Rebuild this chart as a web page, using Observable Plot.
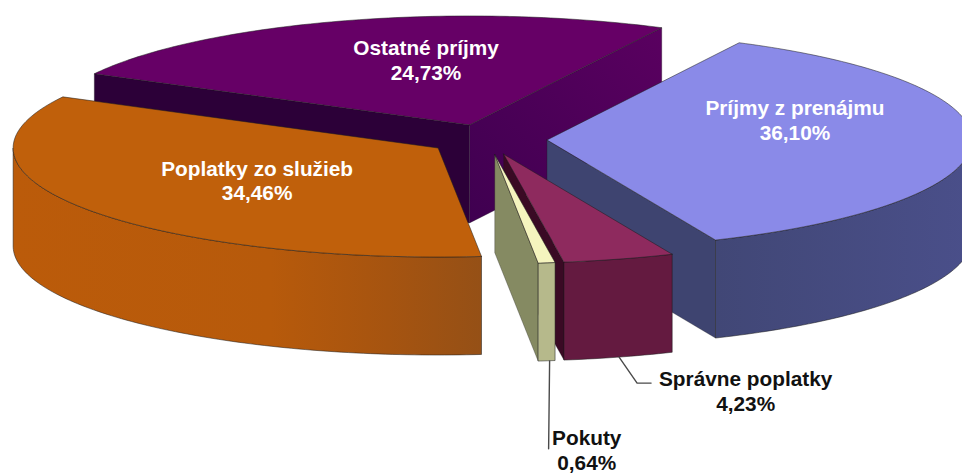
<!DOCTYPE html>
<html>
<head>
<meta charset="utf-8">
<style>html,body{margin:0;padding:0;background:#fff;overflow:hidden}</style>
<script src="https://cdn.jsdelivr.net/npm/d3@7"></script>
<script src="https://cdn.jsdelivr.net/npm/@observablehq/plot@0.6"></script>
</head>
<body>
<div id="chart"></div>
<script>
// Data, clockwise from the first slice
const categories = ["Ostatné príjmy", "Príjmy z prenájmu", "Správne poplatky", "Pokuty", "Poplatky zo služieb"];
const shares = [24.73, 36.10, 4.23, 0.64, 34.46];
const firstSliceAngle = 298;   // degrees clockwise from north
const explode = 0.14;          // share of the radius each slice is pulled out

// 3-D look, in radius units
const tilt = 109 / 425, depth = 98 / 425;
const W = 962, H = 476, R = 425, cx = 487, cy = 139;

const total = d3.sum(shares);
let run = firstSliceAngle;
const rad = d => d * Math.PI / 180;
const ring = (deg, r = 1) => [r * Math.sin(rad(deg)), -r * tilt * Math.cos(rad(deg))];
const slices = categories.map((name, i) => {
  const a0 = run, a1 = run + shares[i] / total * 360;
  run = a1;
  const m = (a0 + a1) / 2;
  const [ox, oy] = ring(m, explode);
  return {name, share: shares[i], a0, a1, m, ox, oy,
    text: `${name}\n${shares[i].toFixed(2).replace(".", ",")}%`};
});
const S = Object.fromEntries(categories.map((c, i) => [c, slices[i]]));

const rim = (s, from, to, z = 0) => d3.range(from, to, 1).concat(to)
  .map(a => { const [u, v] = ring(a); return [s.ox + u, s.oy + v + z]; });
const apex = (s, z = 0) => [s.ox, s.oy + z];
const poly = (pts, fill, stroke = "#1c1c1c", strokeWidth = 0.7) =>
  Plot.line(pts.concat([pts[0]]), {x: d => d[0], y: d => d[1], fill, stroke, strokeWidth, strokeOpacity: 0.75, strokeLinejoin: "round", clip: true});
const topFace = (s, fill) => poly([apex(s), ...rim(s, s.a0, s.a1)], fill);
const outer = (s, fill) => {
  const from = Math.max(s.a0 % 360, 90), to = Math.min(s.a1 % 360, 270);
  return poly([...rim(s, from, to), ...rim(s, from, to, depth).reverse()], fill);
};
const cut = (s, a, fill) => {
  const [u, v] = ring(a);
  const p = [s.ox + u, s.oy + v];
  return poly([apex(s), p, [p[0], p[1] + depth], apex(s, depth)], fill, "#1c1c1c", 0.4);
};

const gradient = (id, stops, x1 = 0, x2 = 1, y1 = 0, y2 = 0) => () => {
  const ns = "http://www.w3.org/2000/svg";
  const g = document.createElementNS(ns, "linearGradient");
  g.setAttribute("id", id);
  for (const [k, v] of Object.entries({x1, x2, y1, y2})) g.setAttribute(k, v);
  for (const [o, c] of stops) {
    const st = document.createElementNS(ns, "stop");
    st.setAttribute("offset", o); st.setAttribute("stop-color", c);
    g.appendChild(st);
  }
  return g;
};

const label = (s, dx, dy, fill) => Plot.text([s], {
  x: d => d.ox, y: d => d.oy, text: "text", dx, dy, fill,
  fontFamily: "Liberation Sans, Arial, sans-serif", fontWeight: "bold", fontSize: 20.8,
  lineHeight: 1.2, textAnchor: "middle", lineAnchor: "middle"
});
const leader = (s, shift, ...offsets) => {
  const [u, v] = ring(s.m);
  const b = [s.ox + u + shift / R, s.oy + v + depth];
  return Plot.line([b, ...offsets.map(([dx, dy]) => [b[0] + dx / R, b[1] + dy / R])],
    {x: d => d[0], y: d => d[1], stroke: "#4a4a4a", strokeWidth: 1.4});
};

const ost = S["Ostatné príjmy"], pre = S["Príjmy z prenájmu"], spr = S["Správne poplatky"],
      pok = S["Pokuty"], pop = S["Poplatky zo služieb"];

const plot = Plot.plot({
  width: W, height: H, margin: 0,
  style: {background: "#fff"},
  x: {domain: [-cx / R, (W - cx) / R], range: [0, W], axis: null},
  y: {domain: [-cy / R, (H - cy) / R], range: [0, H], axis: null},
  marks: [
    gradient("gOrange", [[0, "#bb5b0a"], [0.55, "#b75a0b"], [0.8, "#a65410"], [1, "#955016"]]),
    gradient("gPurpleR", [[0, "#3f0050"], [1, "#5a0060"]], 0, 1, 1, 0),
    gradient("gBlue", [[0, "#414776"], [1, "#4a4f8a"]]),
    // Ostatné príjmy
    cut(ost, ost.a0, "#2c0038"),
    cut(ost, ost.a1, "url(#gPurpleR)"),
    topFace(ost, "#660066"),
    // Príjmy z prenájmu
    cut(pre, pre.a1, "#3e4470"),
    outer(pre, "url(#gBlue)"),
    topFace(pre, "#8a8ae8"),
    // Správne poplatky
    cut(spr, spr.a1, "#3a0a24"),
    outer(spr, "#641a40"),
    topFace(spr, "#8e2a5e"),
    // Poplatky zo služieb
    outer(pop, "url(#gOrange)"),
    topFace(pop, "#c0600b"),
    // Pokuty
    cut(pok, pok.a1, "#858a62"),
    outer(pok, "#b6b98b"),
    topFace(pok, "#f5f4be"),
    // Labels
    leader(spr, 0, [18, 26], [32, 26]),
    leader(pok, 3, [-1, 88]),
    label(ost, -43.5, -65, "#fff"),
    label(pre, 248, -20, "#fff"),
    label(pop, -181, 32, "#fff"),
    label(spr, 242, 236, "#111"),
    label(pok, 92, 295, "#111")
  ]
});
document.getElementById("chart").appendChild(plot);
</script>
</body>
</html>
